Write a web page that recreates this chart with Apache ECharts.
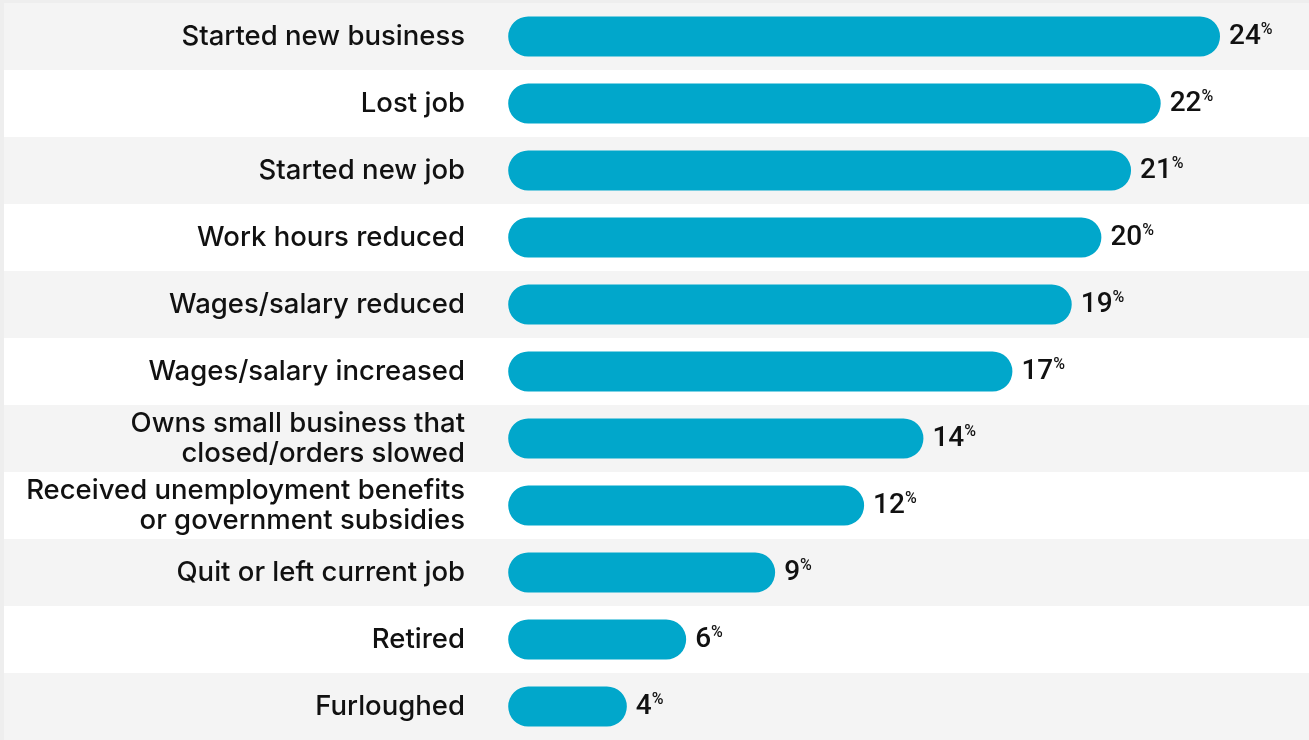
<!DOCTYPE html>
<html>
<head>
<meta charset="utf-8">
<script src="https://cdn.jsdelivr.net/npm/echarts@6/dist/echarts.min.js"></script>
<style>
  html, body { margin: 0; padding: 0; background: #eeeeee; }
  #chart { width: 1309px; height: 740px; }
</style>
</head>
<body>
<div id="chart"></div>
<script>
// Employment changes, share of respondents (%)
const categories = [
  'Started new business',
  'Lost job',
  'Started new job',
  'Work hours reduced',
  'Wages/salary reduced',
  'Wages/salary increased',
  'Owns small business that\nclosed/orders slowed',
  'Received unemployment benefits\nor government subsidies',
  'Quit or left current job',
  'Retired',
  'Furloughed'
];
const values = [24, 22, 21, 20, 19, 17, 14, 12, 9, 6, 4];

const chart = echarts.init(document.getElementById('chart'), null, { renderer: 'canvas' });

chart.setOption({
  backgroundColor: '#eeeeee',
  animation: false,
  grid: { left: 4, right: 0, top: 3, bottom: 0, containLabel: false },
  xAxis: {
    type: 'value',
    min: -17,
    max: 27,
    show: false
  },
  yAxis: {
    type: 'category',
    data: categories,
    inverse: true,
    axisLine: { show: false },
    axisTick: { show: false },
    splitLine: { show: false },
    splitArea: {
      show: true,
      areaStyle: { color: ['#f4f4f4', '#ffffff'] }
    },
    axisLabel: {
      inside: true,
      align: 'right',
      margin: 461,
      color: '#111111',
      fontFamily: 'Inter',
      fontWeight: 500,
      fontSize: 27.5,
      lineHeight: 30
    }
  },
  series: [{
    type: 'bar',
    data: values,
    barWidth: 40,
    itemStyle: { color: '#01a7cb', borderRadius: 20 },
    label: {
      show: true,
      position: 'right',
      distance: 9,
      formatter: p => '{v|' + p.value + '}{p|%}',
      rich: {
        v: { fontFamily: 'Roboto', fontWeight: 500, fontSize: 28, color: '#111111', letterSpacing: -1 },
        p: { fontFamily: 'Roboto', fontWeight: 500, fontSize: 16, color: '#111111', verticalAlign: 'top', padding: [0, 0, 13, 0] }
      }
    }
  }]
});
</script>
</body>
</html>
